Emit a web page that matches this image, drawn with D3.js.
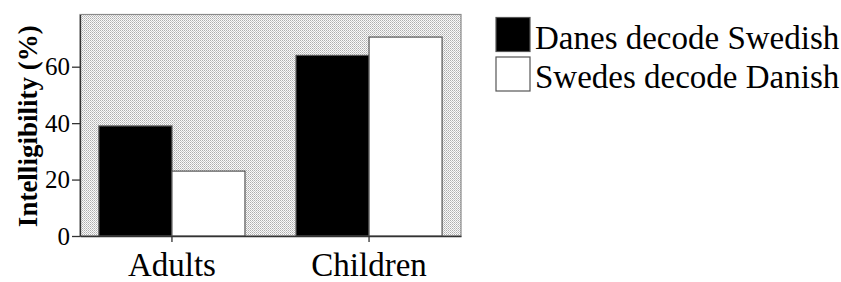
<!DOCTYPE html>
<html>
<head>
<meta charset="utf-8">
<script src="https://cdn.jsdelivr.net/npm/d3@7"></script>
<style>
  body { margin: 0; background: #fff; }
  svg text { font-family: "Liberation Serif", "Times New Roman", serif !important; fill: #000; }
</style>
</head>
<body>
<div id="chart"></div>
<script>
var groups = ["Adults", "Children"];
var series = ["Danes decode Swedish", "Swedes decode Danish"];
var danesSwedish = [39, 64];
var swedesDanish = [23, 70.5];
var yTicks = [0, 20, 40, 60];
var fills = ["#000", "#fff"];

var width = 841, height = 282;
var plotL = 80, plotR = 461, plotT = 14.5, plotB = 236;

var svg = d3.select("#chart").append("svg")
    .attr("width", width)
    .attr("height", height);

// dotted grey background, like the old stats package output
var pat = svg.append("defs").append("pattern")
    .attr("id", "dots")
    .attr("width", 2).attr("height", 2)
    .attr("patternUnits", "userSpaceOnUse");
pat.append("rect").attr("width", 2).attr("height", 2).attr("fill", "#fafafa");
pat.append("rect").attr("width", 1).attr("height", 1).attr("fill", "#aeaeae");
pat.append("rect").attr("x", 1).attr("y", 1).attr("width", 1).attr("height", 1).attr("fill", "#c8c8c8");

var x0 = d3.scaleBand()
    .domain(groups)
    .range([plotL, plotR])
    .paddingInner(0.259)
    .paddingOuter(0.096);

var x1 = d3.scaleBand()
    .domain(series)
    .range([0, x0.bandwidth()]);

var y = d3.scaleLinear()
    .domain([0, 78.5])
    .range([plotB, plotT]);

svg.append("rect")
    .attr("x", plotL).attr("y", plotT)
    .attr("width", plotR - plotL).attr("height", plotB - plotT)
    .attr("fill", "url(#dots)")
    .attr("stroke", "#8a8a8a")
    .attr("stroke-width", 1.2);

var rows = groups.map(function(g, i) {
  return [{g: g, s: series[0], v: danesSwedish[i], c: fills[0]},
          {g: g, s: series[1], v: swedesDanish[i], c: fills[1]}];
});

svg.selectAll("g.grp")
    .data(rows)
  .enter().append("g")
    .attr("class", "grp")
    .attr("transform", function(d) { return "translate(" + x0(d[0].g) + ",0)"; })
  .selectAll("rect")
    .data(function(d) { return d; })
  .enter().append("rect")
    .attr("x", function(d) { return x1(d.s); })
    .attr("y", function(d) { return y(d.v); })
    .attr("width", x1.bandwidth())
    .attr("height", function(d) { return plotB - y(d.v); })
    .attr("fill", function(d) { return d.c; })
    .attr("stroke", "#555")
    .attr("stroke-width", 1.2);

// y axis
var ya = svg.append("g")
    .attr("transform", "translate(" + plotL + ",0)")
    .call(d3.axisLeft(y).tickValues(yTicks).tickSize(8).tickPadding(2).tickSizeOuter(0).tickFormat(d3.format("d")));
ya.attr("font-family", null).attr("font-size", null);
ya.select(".domain").attr("stroke", "#333").attr("stroke-width", 1.3);
ya.selectAll(".tick line").attr("stroke", "#333").attr("stroke-width", 1.3);
ya.selectAll("text").style("font-size", "25px");

// x axis
var xa = svg.append("g")
    .attr("transform", "translate(0," + plotB + ")")
    .call(d3.axisBottom(x0).tickSize(6).tickPadding(11).tickSizeOuter(0));
xa.attr("font-family", null).attr("font-size", null);
xa.select(".domain").attr("stroke", "#333").attr("stroke-width", 1.3);
xa.selectAll(".tick line").attr("stroke", "#333").attr("stroke-width", 1.3);
xa.selectAll("text").style("font-size", "33px");

svg.append("text")
    .attr("transform", "translate(37," + ((plotT + plotB) / 2 + 1) + ") rotate(-90)")
    .attr("text-anchor", "middle")
    .style("font-size", "27px")
    .style("font-weight", "bold")
    .text("Intelligibility (%)");

// legend
var leg = svg.selectAll("g.leg")
    .data(series)
  .enter().append("g")
    .attr("class", "leg")
    .attr("transform", function(d, i) { return "translate(496," + (17.5 + i * 39.5) + ")"; });
leg.append("rect")
    .attr("width", 34).attr("height", 34)
    .attr("fill", function(d, i) { return fills[i]; })
    .attr("stroke", "#555")
    .attr("stroke-width", 1.2);
leg.append("text")
    .attr("x", 39).attr("y", 31)
    .style("font-size", "33px")
    .text(function(d) { return d; });
</script>
</body>
</html>
